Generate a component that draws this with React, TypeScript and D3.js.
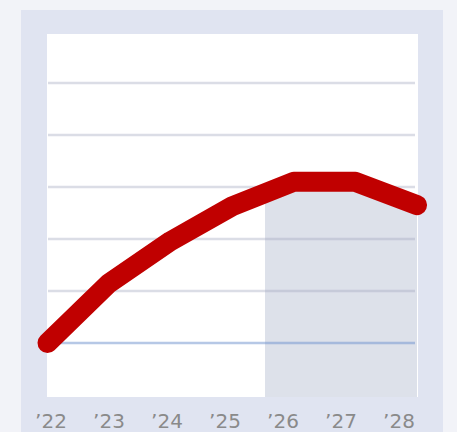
import React from "react";
import * as d3 from "d3";

const years = [2022, 2023, 2024, 2025, 2026, 2027, 2028];
const values = [0, 1.15, 1.96, 2.63, 3.1, 3.1, 2.65];
const tickLabels = ["’22", "’23", "’24", "’25", "’26", "’27", "’28"];
const gridValues = [1, 2, 3, 4, 5];
const baselineValue = 0;
const forecastStart = 2025.53;

const W = 457;
const H = 432;
const plot = { x0: 47, x1: 418, y0: 34, y1: 397 };

export default function App() {
  const x = d3.scaleLinear().domain([2022, 2028]).range([47.5, 417]);
  const y = d3.scaleLinear().domain([0, 5]).range([343, 83]);
  const xl = d3.scaleLinear().domain([2022, 2028]).range([51, 399]);

  const pts = years.map((yr, i) => [yr, values[i]] as [number, number]);
  const line = d3
    .line<[number, number]>()
    .x((d) => x(d[0]))
    .y((d) => y(d[1]));
  const area = d3
    .area<[number, number]>()
    .x((d) => x(d[0]))
    .y0(plot.y1)
    .y1((d) => y(d[1]));

  return (
    <svg
      width={W}
      height={H}
      style={{ position: "absolute", left: 0, top: 0, display: "block" }}
    >
      <defs>
        <clipPath id="fc">
          <rect
            x={x(forecastStart)}
            y={plot.y0}
            width={x(2028) - x(forecastStart)}
            height={plot.y1 - plot.y0}
          />
        </clipPath>
      </defs>
      <rect x={0} y={0} width={W} height={H} fill="#f2f3f8" />
      <rect x={21} y={10} width={422} height={H} fill="#e0e4f1" />
      <rect
        x={plot.x0}
        y={plot.y0}
        width={plot.x1 - plot.x0}
        height={plot.y1 - plot.y0}
        fill="#ffffff"
      />
      <path d={area(pts) || ""} fill="#dde1ea" clipPath="url(#fc)" />
      {gridValues.map((v) => (
        <line
          key={v}
          x1={48}
          x2={415}
          y1={y(v)}
          y2={y(v)}
          stroke="rgb(160,166,190)"
          strokeOpacity={0.38}
          strokeWidth={2.5}
        />
      ))}
      <line
        x1={48}
        x2={415}
        y1={y(baselineValue)}
        y2={y(baselineValue)}
        stroke="rgb(110,145,205)"
        strokeOpacity={0.5}
        strokeWidth={2.5}
      />
      <path
        d={line(pts) || ""}
        fill="none"
        stroke="#c00000"
        strokeWidth={20}
        strokeLinecap="round"
        strokeLinejoin="round"
      />
      {years.map((yr, i) => (
        <text
          key={yr}
          x={xl(yr)}
          y={428}
          textAnchor="middle"
          fontFamily="DejaVu Sans"
          fontSize={20}
          fill="#8a8a8a"
        >
          {tickLabels[i]}
        </text>
      ))}
    </svg>
  );
}
